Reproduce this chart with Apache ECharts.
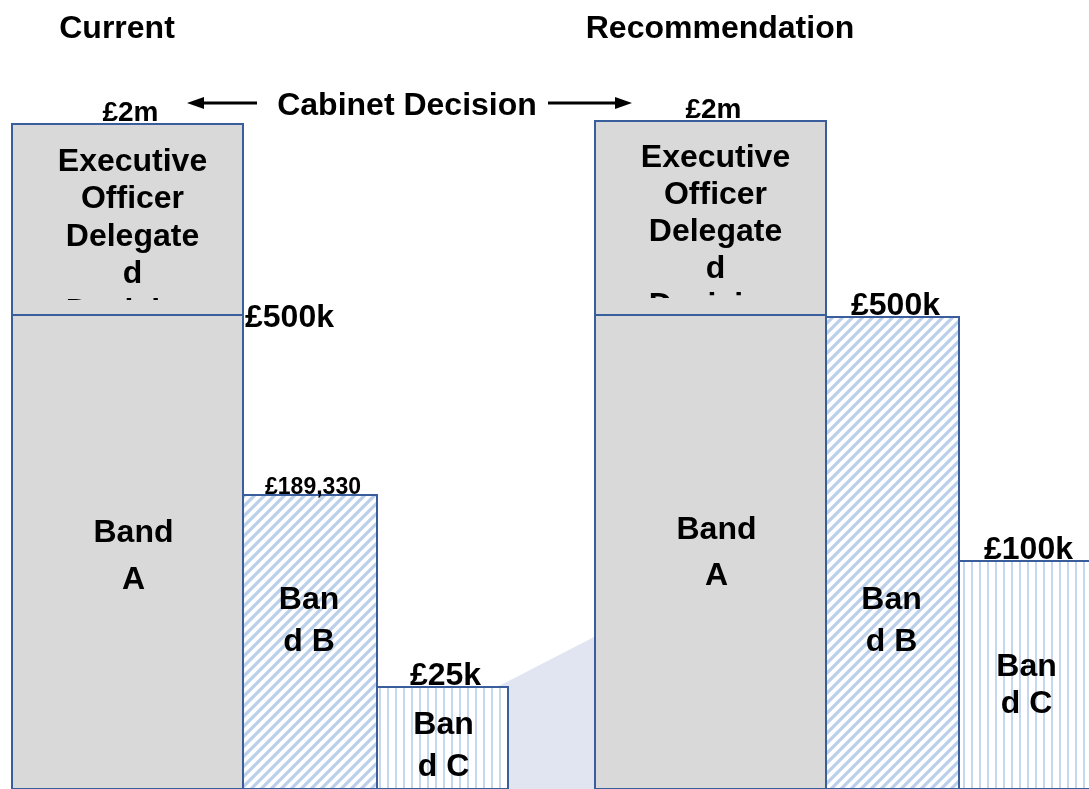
<!DOCTYPE html>
<html>
<head>
<meta charset="utf-8">
<title>Decision bands</title>
<script src="https://cdn.jsdelivr.net/npm/echarts@6/dist/echarts.min.js"></script>
<style>
  html, body { margin: 0; padding: 0; background: #fff; }
  #chart { width: 1089px; height: 789px; }
</style>
</head>
<body>
<div id="chart"></div>
<script>
// --- data -------------------------------------------------------------
const panels = ['Current', 'Recommendation'];
const bandText = ['Executive\nOfficer\nDelegate\nd\nDecision', 'Band\nA', 'Ban\nd B', 'Ban\nd C'];

// horizontal extent of each block (chart units)
const currentLeft  = [12, 12, 243, 377];
const currentRight = [243, 243, 377, 508];
const recLeft      = [595, 595, 826, 959];
const recRight     = [826, 826, 959, 1092];

// block top / bottom, chart units above the baseline
const currentTop    = [665, 474, 294, 102];
const currentBottom = [474, 0, 0, 0];
const recTop        = [668, 474, 472, 228];
const recBottom     = [474, 0, 0, 0];

// threshold written at the top of each block
const currentLimits = ['£2m', '£500k', '£189,330', '£25k'];
const recLimits     = ['£2m', '', '£500k', '£100k'];

// --- layout ------------------------------------------------------------
const FAMILY = 'Liberation Sans';
const BORDER = '#3a5d9c';
const GREY = '#d9d9d9';
const fills = ['grey', 'grey', 'diag', 'vert'];
const textShift = [5, 6, -1, 1];
const textLineHeight = [[37.5, 47, 42, 42], [37, 46, 42, 37]];
// where the band name sits (chart units); exec text is hung from the top
const textAt = [[null, 232, 168, 43], [null, 236, 168, 103]];
const limitPlace = [['top', 'right', 'top', 'top'], ['top', 'top', 'top', 'top']];
// how far up from the exec block's bottom its text gets cut off
const insetDepth = [15, 17];

function txt(text, x, y, size, align, va, lh) {
  const s = {
    text: text, x: x, y: y, fill: '#000',
    fontFamily: FAMILY, fontWeight: 'bold', fontSize: size,
    align: align || 'center', verticalAlign: va || 'middle'
  };
  if (lh) s.lineHeight = lh;
  return s;
}

function stripeCanvas(kind) {
  const c = document.createElement('canvas');
  const s = kind === 'diag' ? 10 : 8;
  c.width = s; c.height = s;
  const ctx = c.getContext('2d');
  ctx.fillStyle = '#fff';
  ctx.fillRect(0, 0, s, s);
  if (kind === 'diag') {
    ctx.strokeStyle = '#bccfea';
    ctx.lineWidth = 3.2;
    ctx.beginPath();
    ctx.moveTo(-2, 2); ctx.lineTo(2, -2);
    ctx.moveTo(0, s); ctx.lineTo(s, 0);
    ctx.moveTo(s - 2, s + 2); ctx.lineTo(s + 2, s - 2);
    ctx.stroke();
  } else {
    ctx.fillStyle = '#c6d6ec';
    ctx.fillRect(3, 0, 2, s);
  }
  return c;
}
const patterns = {
  grey: GREY,
  diag: { image: stripeCanvas('diag'), repeat: 'repeat' },
  vert: { image: stripeCanvas('vert'), repeat: 'repeat' }
};

const lefts = [currentLeft, recLeft];
const rights = [currentRight, recRight];
const tops = [currentTop, recTop];
const bottoms = [currentBottom, recBottom];
const limits = [currentLimits, recLimits];

const blocks = [];
panels.forEach((p, pi) => {
  bandText.forEach((t, bi) => {
    blocks.push([lefts[pi][bi], rights[pi][bi], bottoms[pi][bi], tops[pi][bi], pi, bi]);
  });
});

function boxOf(api) {
  const tl = api.coord([api.value(0), api.value(3)]);
  const br = api.coord([api.value(1), api.value(2)]);
  return { x: tl[0], y: tl[1], w: br[0] - tl[0], h: br[1] - tl[1], bottom: br[1], right: br[0] };
}

function renderBlock(params, api) {
  const pi = api.value(4), bi = api.value(5);
  const b = boxOf(api);
  const cx = b.x + b.w / 2;
  const children = [{
    type: 'rect',
    shape: { x: b.x, y: b.y, width: b.w, height: b.h },
    style: { fill: patterns[fills[bi]], stroke: BORDER, lineWidth: 2 }
  }];

  let ty, va = 'middle';
  if (textAt[pi][bi] == null) {
    ty = b.y + 19; va = 'top';
  } else {
    ty = api.coord([0, textAt[pi][bi]])[1];
  }
  children.push({
    type: 'text',
    style: txt(bandText[bi], cx + textShift[bi], ty, 32, 'center', va, textLineHeight[pi][bi])
  });

  const lab = limits[pi][bi];
  if (lab) {
    const small = lab.length > 6;
    const size = small ? 23 : (lab.length < 4 ? 28 : 32);
    children.push({
      type: 'text',
      style: limitPlace[pi][bi] === 'right'
        ? txt(lab, b.right + 2, b.y + 3, size, 'left')
        : txt(lab, cx + 3, b.y - (small ? 7 : 11), size)
    });
  }
  return { type: 'group', children: children };
}

// text box inset of the executive block: last line is cut off
function renderInset(params, api) {
  if (api.value(5) !== 0) return null;
  const b = boxOf(api);
  const d = insetDepth[api.value(4)];
  return {
    type: 'rect',
    shape: { x: b.x + 2, y: b.bottom - d, width: b.w - 4, height: d - 1 },
    style: { fill: GREY }
  };
}

const chart = echarts.init(document.getElementById('chart'));
chart.setOption({
  animation: false,
  grid: { left: 0, right: 0, top: 0, bottom: 0 },
  xAxis: { type: 'value', min: 0, max: 1089, show: false },
  yAxis: { type: 'value', min: 0, max: 789, show: false },
  graphic: [
    { type: 'polygon', z: 0, shape: { points: [[497, 687], [596, 636], [596, 789], [497, 789]] },
      style: { fill: '#e1e5f1' } },
    { type: 'text', x: 117, y: 29, style: txt(panels[0], 0, 0, 32) },
    { type: 'text', x: 720, y: 29, style: txt(panels[1], 0, 0, 32) },
    { type: 'text', x: 407, y: 106, style: txt('Cabinet Decision', 0, 0, 32) },
    { type: 'line', shape: { x1: 200, y1: 103, x2: 257, y2: 103 }, style: { stroke: '#000', lineWidth: 3 } },
    { type: 'polygon', shape: { points: [[187, 103], [204, 97], [204, 109]] }, style: { fill: '#000' } },
    { type: 'line', shape: { x1: 548, y1: 103, x2: 620, y2: 103 }, style: { stroke: '#000', lineWidth: 3 } },
    { type: 'polygon', shape: { points: [[632, 103], [615, 97], [615, 109]] }, style: { fill: '#000' } }
  ],
  series: [{
    type: 'custom',
    z: 2,
    renderItem: renderBlock,
    data: blocks
  }, {
    type: 'custom',
    z: 3,
    renderItem: renderInset,
    data: blocks
  }]
});
</script>
</body>
</html>
